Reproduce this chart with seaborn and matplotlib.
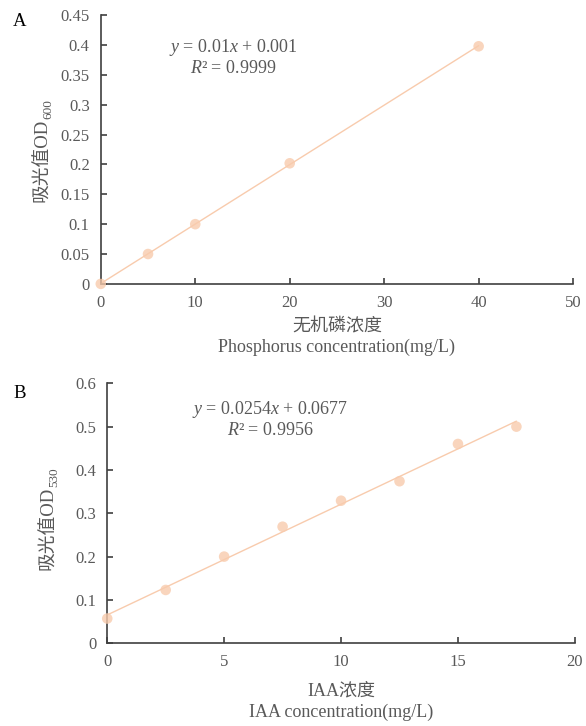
import matplotlib
matplotlib.use("Agg")
import matplotlib.pyplot as plt
import seaborn as sns
import numpy as np
import pandas as pd
from matplotlib.ticker import FuncFormatter, MultipleLocator

# ---- data ----
p_conc = [0, 5, 10, 20, 40]
p_od = [0.0, 0.050, 0.100, 0.202, 0.398]
p_eq = "$y$ = 0.01$x$ + 0.001"
p_r2 = "$R$² = 0.9999"

iaa_conc = [0, 2.5, 5, 7.5, 10, 12.5, 15, 17.5]
iaa_od = [0.057, 0.123, 0.200, 0.269, 0.329, 0.374, 0.460, 0.500]
iaa_eq = "$y$ = 0.0254$x$ + 0.0677"
iaa_r2 = "$R$² = 0.9956"

sns.set_theme(style="white")
FAM = ["Liberation Serif", "Noto Sans CJK SC"]
plt.rcParams["font.family"] = FAM
plt.rcParams["mathtext.fontset"] = "custom"
plt.rcParams["mathtext.rm"] = "Liberation Serif"
plt.rcParams["mathtext.it"] = "Liberation Serif:italic"
plt.rcParams["axes.unicode_minus"] = False

TXT = "#595959"
AX = "#404040"
MK = "#F8CBAD"
W, H = 586, 726

fig = plt.figure(figsize=(W / 100, H / 100), dpi=100)
axA = fig.add_axes([0.172, 0.609, 0.806, 0.370])
axB = fig.add_axes([0.183, 0.114, 0.798, 0.358])

fmt = FuncFormatter(lambda v, p: f"{v:.2f}".rstrip("0").rstrip(".") if v != 0 else "0")

def style(ax, xmax, xstep, ymax, ystep):
    ax.set_xlim(0, xmax)
    ax.set_ylim(0, ymax)
    ax.xaxis.set_major_locator(MultipleLocator(xstep))
    ax.yaxis.set_major_locator(MultipleLocator(ystep))
    ax.yaxis.set_major_formatter(fmt)
    ax.xaxis.set_major_formatter(fmt)
    for s in ["top", "right"]:
        ax.spines[s].set_visible(False)
    for s in ["left", "bottom"]:
        ax.spines[s].set_color(AX)
        ax.spines[s].set_linewidth(1.2)
    ax.tick_params(direction="in", length=4, width=1.2, color=AX,
                   labelcolor=TXT, labelsize=12, pad=8, left=True, bottom=True)
    ax.grid(False)

def panel(ax, x, y):
    df = pd.DataFrame({"x": x, "y": y})
    sns.regplot(data=df, x="x", y="y", ax=ax, ci=None, truncate=True,
                scatter_kws=dict(s=58, color=MK, edgecolors="none", zorder=3, clip_on=False),
                line_kws=dict(color=MK, lw=1.0, zorder=2))
    ax.set_xlabel("")
    ax.set_ylabel("")

def ylabel(px, py_center, sub):
    # main text "吸光值OD" rotated, subscript placed after it
    main = fig.text(px / W, 1 - (py_center + 10) / H, "吸光值OD", rotation=90,
                    ha="center", va="center", color=TXT, fontsize=13.5)
    fig.canvas.draw()
    bb = main.get_window_extent(renderer=fig.canvas.get_renderer())
    fig.text((bb.x1 + 3) / W, (bb.y1 - 1) / H, sub, rotation=90,
             ha="right", va="bottom", color=TXT, fontsize=9.5)

panel(axA, p_conc, p_od)
style(axA, 50, 10, 0.45, 0.05)
axA.set_xlabel("无机磷浓度\nPhosphorus concentration(mg/L)", color=TXT, fontsize=13, labelpad=5, linespacing=1.3)
axA.text(0.28, 0.881, p_eq, transform=axA.transAxes, ha="center", va="center", color=TXT, fontsize=13)
axA.text(0.28, 0.803, p_r2, transform=axA.transAxes, ha="center", va="center", color=TXT, fontsize=13)

panel(axB, iaa_conc, iaa_od)
style(axB, 20, 5, 0.6, 0.1)
axB.set_xlabel("IAA浓度\nIAA concentration(mg/L)", color=TXT, fontsize=13, labelpad=9, linespacing=1.3)
axB.text(0.348, 0.9, iaa_eq, transform=axB.transAxes, ha="center", va="center", color=TXT, fontsize=13)
axB.text(0.348, 0.819, iaa_r2, transform=axB.transAxes, ha="center", va="center", color=TXT, fontsize=13)

fig.text(13 / W, 1 - 22 / H, "A", fontsize=13.5, color="black", va="center", ha="left")
fig.text(13 / W, 1 - 393 / H, "B", fontsize=13.5, color="black", va="center", ha="left")

ylabel(43, 150, "600")
ylabel(49, 518, "530")

fig.savefig("out.png", dpi=100, facecolor="white")
